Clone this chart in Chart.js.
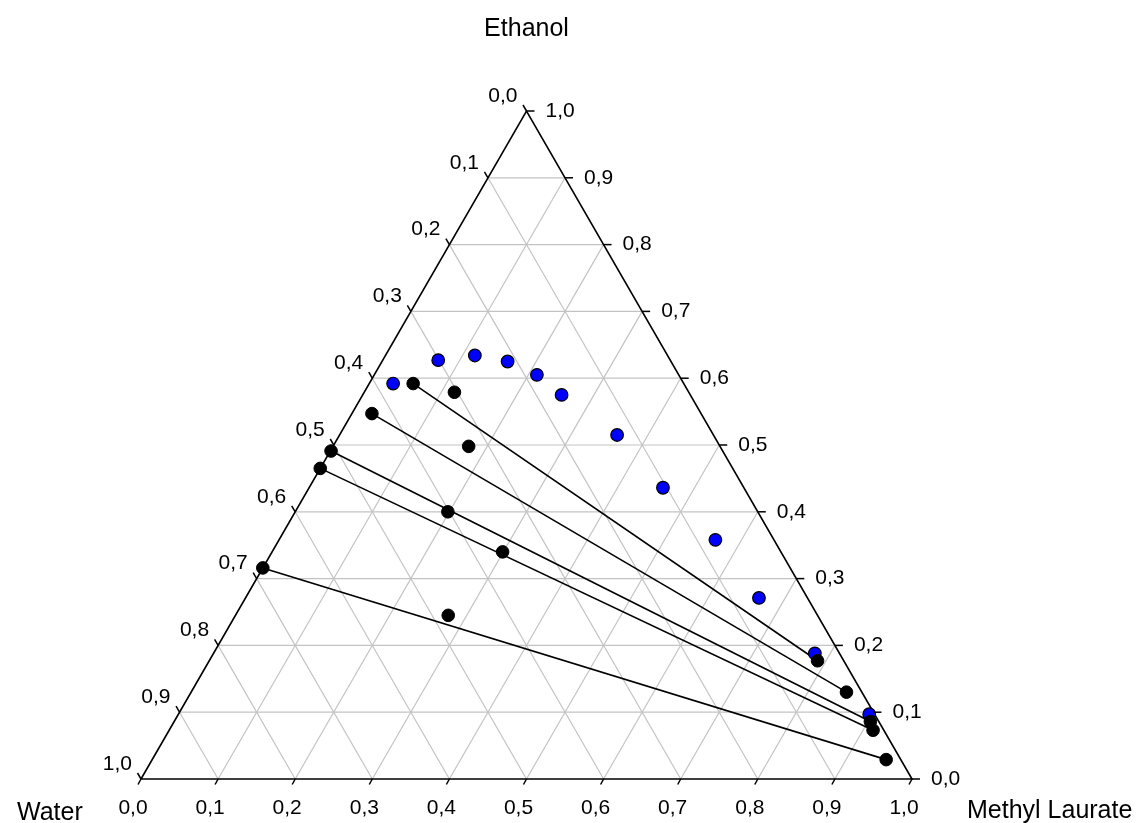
<!DOCTYPE html>
<html>
<head>
<meta charset="utf-8">
<script src="https://cdn.jsdelivr.net/npm/chart.js@4.4.0/dist/chart.umd.min.js"></script>
<style>
  body { margin: 0; background: #fff; }
  canvas { display: block; }
</style>
</head>
<body>
<canvas id="ternary" width="1141" height="823"></canvas>
<script>
// ternary axes: Methyl Laurate (bottom), Ethanol (right), Water (left)
const tickValues = [0, 0.1, 0.2, 0.3, 0.4, 0.5, 0.6, 0.7, 0.8, 0.9, 1.0];
const tickLabels = ['0,0', '0,1', '0,2', '0,3', '0,4', '0,5', '0,6', '0,7', '0,8', '0,9', '1,0'];
const axisTitles = ['Ethanol', 'Water', 'Methyl Laurate'];

// binodal curve points (blue)
const binodalLaurate = [0.031, 0.072, 0.116, 0.163, 0.211, 0.258, 0.360, 0.459, 0.566, 0.666, 0.780, 0.896];
const binodalEthanol = [0.592, 0.627, 0.634, 0.625, 0.605, 0.575, 0.515, 0.436, 0.358, 0.271, 0.188, 0.097];

// tie lines: water-rich end and ester-rich end
const tieWaterLaurate = [0.057, 0.026, 0.001, 0.000, 0.000];
const tieWaterEthanol = [0.592, 0.547, 0.491, 0.465, 0.316];
const tieEsterLaurate = [0.789, 0.850, 0.903, 0.913, 0.952];
const tieEsterEthanol = [0.177, 0.130, 0.086, 0.073, 0.029];

// overall mixture points (black, not at line ends)
const mixLaurate = [0.117, 0.176, 0.198, 0.299, 0.276];
const mixEthanol = [0.579, 0.498, 0.400, 0.340, 0.245];

const H = Math.sqrt(3) / 2;

// (laurate, ethanol) -> cartesian point
function toXY(ml, et) {
    return { x: ml + et / 2, y: et * H };
}

const datasets = [];

// black points on top
const blackPts = [];
for (let i = 0; i < tieWaterLaurate.length; i++) {
    blackPts.push(toXY(tieWaterLaurate[i], tieWaterEthanol[i]));
    blackPts.push(toXY(tieEsterLaurate[i], tieEsterEthanol[i]));
}
mixLaurate.forEach((ml, i) => blackPts.push(toXY(ml, mixEthanol[i])));
datasets.push({
    type: 'scatter', data: blackPts, order: 0, clip: false,
    pointRadius: 6.3, pointBackgroundColor: '#000', pointBorderColor: '#000', pointBorderWidth: 1
});

datasets.push({
    type: 'scatter', data: binodalLaurate.map((ml, i) => toXY(ml, binodalEthanol[i])),
    order: 1, clip: false,
    pointRadius: 6.3, pointBackgroundColor: '#0000ff', pointBorderColor: '#000', pointBorderWidth: 1.2
});

// tie lines
for (let i = 0; i < tieWaterLaurate.length; i++) {
    datasets.push({
        type: 'line', order: 2, clip: false, pointRadius: 0,
        borderColor: '#000', borderWidth: 1.6,
        data: [toXY(tieWaterLaurate[i], tieWaterEthanol[i]), toXY(tieEsterLaurate[i], tieEsterEthanol[i])]
    });
}

// triangle frame
datasets.push({
    type: 'line', order: 3, clip: false, pointRadius: 0,
    borderColor: '#000', borderWidth: 1.6,
    data: [toXY(0, 0), toXY(1, 0), toXY(0, 1), toXY(0, 0)]
});

// grid lines
for (let k = 1; k < tickValues.length - 1; k++) {
    const t = tickValues[k];
    const lines = [
        [toXY(0, t), toXY(1 - t, t)],       // ethanol const
        [toXY(t, 0), toXY(t, 1 - t)],       // laurate const
        [toXY(0, 1 - t), toXY(1 - t, 0)]    // water const
    ];
    lines.forEach(seg => datasets.push({
        type: 'line', order: 4, clip: false, pointRadius: 0,
        borderColor: '#c3c3c3', borderWidth: 1.2, data: seg
    }));
}

const ternaryAxes = {
    id: 'ternaryAxes',
    afterDraw(chart) {
        const ctx = chart.ctx;
        const xs = chart.scales.x, ys = chart.scales.y;
        const px = p => [xs.getPixelForValue(p.x), ys.getPixelForValue(p.y)];
        ctx.save();
        ctx.strokeStyle = '#000';
        ctx.lineWidth = 1.5;
        ctx.fillStyle = '#000';
        ctx.font = '21px "Liberation Sans", Arial, sans-serif';

        tickValues.forEach((t, i) => {
            // bottom: methyl laurate
            let [x, y] = px(toXY(t, 0));
            ctx.beginPath(); ctx.moveTo(x, y); ctx.lineTo(x - 3, y + 5.5); ctx.stroke();
            ctx.textAlign = 'center'; ctx.textBaseline = 'middle';
            ctx.fillText(tickLabels[i], x - 8, y + 29);

            // right: ethanol
            [x, y] = px(toXY(1 - t, t));
            ctx.beginPath(); ctx.moveTo(x, y); ctx.lineTo(x + 8, y); ctx.stroke();
            ctx.textAlign = 'left';
            ctx.fillText(tickLabels[i], x + 19, y);

            // left: water
            [x, y] = px(toXY(0, 1 - t));
            ctx.beginPath(); ctx.moveTo(x, y); ctx.lineTo(x - 3.5, y - 6); ctx.stroke();
            ctx.textAlign = 'right';
            ctx.fillText(tickLabels[i], x - 9, y - 15);
        });

        ctx.font = '25px "Liberation Sans", Arial, sans-serif';
        ctx.textBaseline = 'alphabetic';
        const top = px(toXY(0, 1));
        ctx.textAlign = 'center';
        ctx.fillText(axisTitles[0], top[0], 36);
        ctx.textAlign = 'left';
        ctx.fillText(axisTitles[1], 17, 820);
        ctx.fillText(axisTitles[2], 967, 818);
        ctx.restore();
    }
};

new Chart(document.getElementById('ternary'), {
    type: 'scatter',
    data: { datasets: datasets },
    options: {
        responsive: false,
        animation: false,
        layout: { padding: { left: 141, right: 229, top: 111, bottom: 44 } },
        scales: {
            x: { type: 'linear', min: 0, max: 1, display: false },
            y: { type: 'linear', min: 0, max: H, display: false }
        },
        plugins: { legend: { display: false }, tooltip: { enabled: false } },
        events: []
    },
    plugins: [ternaryAxes]
});
</script>
</body>
</html>
